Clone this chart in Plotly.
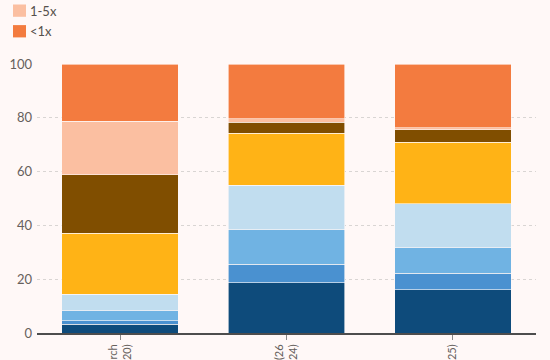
import plotly.graph_objects as go

categories = ["Previous research<br>(2020)", "Investor survey (26<br>June 2024)", "Investor survey (March 2025)"]

series_names = [">100x", "50-100x", "20-50x", "10-20x", "5-10x", "Unknown", "1-5x", "<1x"]
navy = [3.3, 18.7, 16.0]
mid_blue = [1.2, 6.8, 6.3]
sky_blue = [3.7, 12.9, 9.6]
pale_blue = [6.2, 16.6, 16.1]
yellow = [22.6, 19.3, 23.0]
brown = [21.9, 4.0, 4.5]
peach = [19.9, 1.4, 0.8]
orange = [21.2, 20.3, 23.7]

series_values = [navy, mid_blue, sky_blue, pale_blue, yellow, brown, peach, orange]
colors = ["#0e4b7b", "#4a91d0", "#70b3e3", "#c1ddef", "#ffb316", "#804e00", "#fbbfa1", "#f37b3f"]
legend_shown = [False, False, False, False, False, False, True, True]

W, H = 550, 360
ML, MR, MT, MB = 37, 14, 64, 27
PW, PH = W - ML - MR, H - MT - MB


def px(x):
    return (x - ML) / PW


def py(y):
    return (H - MB - y) / PH


bg = "#fff8f7"
fig = go.Figure()
for name, vals, col in zip(series_names, series_values, colors):
    fig.add_trace(go.Bar(
        x=categories, y=vals, name=name,
        marker=dict(color=col, line=dict(color=bg, width=0.6)),
        showlegend=False,
    ))

# legend drawn as swatches + labels (only the visible entries)
shapes, annots = [], []
row = 0
for name, col, shown in zip(series_names, colors, legend_shown):
    if not shown:
        continue
    top = 4.5 + row * 20.6
    shapes.append(dict(type="rect", xref="paper", yref="paper",
                       x0=px(13), x1=px(26), y0=py(top + 12.3), y1=py(top),
                       fillcolor=col, line=dict(width=0)))
    annots.append(dict(xref="paper", yref="paper", x=px(28), y=py(top + 6.2),
                       xanchor="left", yanchor="middle", showarrow=False,
                       text=name, font=dict(size=13, color="#55504c")))
    row += 1

fig.update_layout(
    barmode="stack",
    bargap=0.3,
    width=W, height=H,
    paper_bgcolor=bg, plot_bgcolor=bg,
    margin=dict(l=ML, r=MR, t=MT, b=MB, autoexpand=False),
    font=dict(family="Lato, Open Sans, sans-serif", size=13, color="#66605c"),
    showlegend=False,
    shapes=shapes,
    annotations=annots,
    xaxis=dict(
        showgrid=False, tickangle=-90, automargin=False,
        showline=True, linecolor="#4d4d4d", linewidth=2,
        ticks="outside", ticklen=5, tickcolor="#888",
        tickfont=dict(size=11, color="#66605c"),
    ),
    yaxis=dict(
        range=[0, 100], tickvals=[0, 20, 40, 60, 80, 100],
        showgrid=True, gridcolor="#d9d5d3", griddash="dot", gridwidth=1,
        zeroline=False, automargin=False, ticks="", ticklabelstandoff=4,
        tickfont=dict(size=13, color="#66605c"),
    ),
)

fig.write_html("out.html", config={"displayModeBar": False},
               post_script="document.body.style.margin='0';")
